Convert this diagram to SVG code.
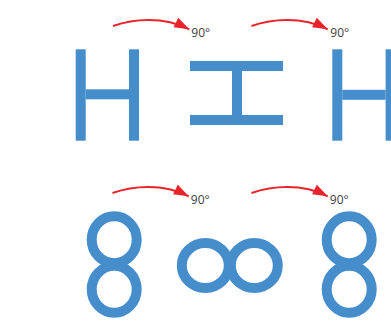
<svg xmlns="http://www.w3.org/2000/svg" width="391" height="321" viewBox="0 0 391 321">
  <style>
    .shape { fill: #468ECB; }
    .ring { fill: none; stroke: #468ECB; stroke-width: 10; }
    .arc { fill: none; stroke: #E8232B; stroke-width: 2; marker-end: url(#head); }
    .lbl { font-family: "Open Sans", "Liberation Sans", sans-serif; font-size: 12px; fill: #404040; }
  </style>
  <defs>
    <marker id="head" markerUnits="userSpaceOnUse" markerWidth="16" markerHeight="11" refX="15" refY="5.25" orient="auto" overflow="visible">
      <path d="M0,0 L15,5.25 L0,10.5 Z" fill="#E8232B"/>
    </marker>
    <g id="arrowTpl">
      <path class="arc" d="M113,26 C133,19 163,16 189.3,29.3"/>
    </g>
  </defs>
  <rect width="391" height="321" fill="#ffffff"/>

  <g id="H-left">
    <rect class="shape" x="75.7" y="49.3" width="10" height="91.4"/>
    <rect class="shape" x="129" y="49.3" width="10" height="91.4"/>
    <rect class="shape" x="85.7" y="89.3" width="43.3" height="10"/>
  </g>
  <g id="H-rotated">
    <rect class="shape" x="190" y="61" width="93" height="10"/>
    <rect class="shape" x="190" y="115" width="93" height="10"/>
    <rect class="shape" x="232" y="71" width="10" height="44"/>
  </g>
  <g id="H-right">
    <rect class="shape" x="332.3" y="49.3" width="10" height="91.4"/>
    <rect class="shape" x="385.6" y="49.3" width="10" height="91.4"/>
    <rect class="shape" x="342.3" y="89.8" width="43.3" height="10"/>
  </g>

  <g id="eight-left">
    <ellipse class="ring" cx="114.2" cy="239.7" rx="22.5" ry="23.5"/>
    <ellipse class="ring" cx="114.2" cy="289.3" rx="22.5" ry="23.5"/>
  </g>
  <g id="eight-rotated">
    <ellipse class="ring" cx="205.3" cy="265.5" rx="23.5" ry="22.5"/>
    <ellipse class="ring" cx="254.3" cy="265.5" rx="23.5" ry="22.5"/>
  </g>
  <g id="eight-right">
    <ellipse class="ring" cx="349.2" cy="239.7" rx="22.5" ry="23.5"/>
    <ellipse class="ring" cx="349.2" cy="289.3" rx="22.5" ry="23.5"/>
  </g>

  <g id="connectors">
    <use href="#arrowTpl"/>
    <use href="#arrowTpl" transform="translate(138.5,0)"/>
    <use href="#arrowTpl" transform="translate(-0.5,167)"/>
    <use href="#arrowTpl" transform="translate(138.5,167)"/>
    <text class="lbl" x="191.3" y="36.7">90°</text>
    <text class="lbl" x="330.3" y="36.7">90°</text>
    <text class="lbl" x="190.8" y="203.8">90°</text>
    <text class="lbl" x="329.8" y="203.8">90°</text>
  </g>
</svg>
